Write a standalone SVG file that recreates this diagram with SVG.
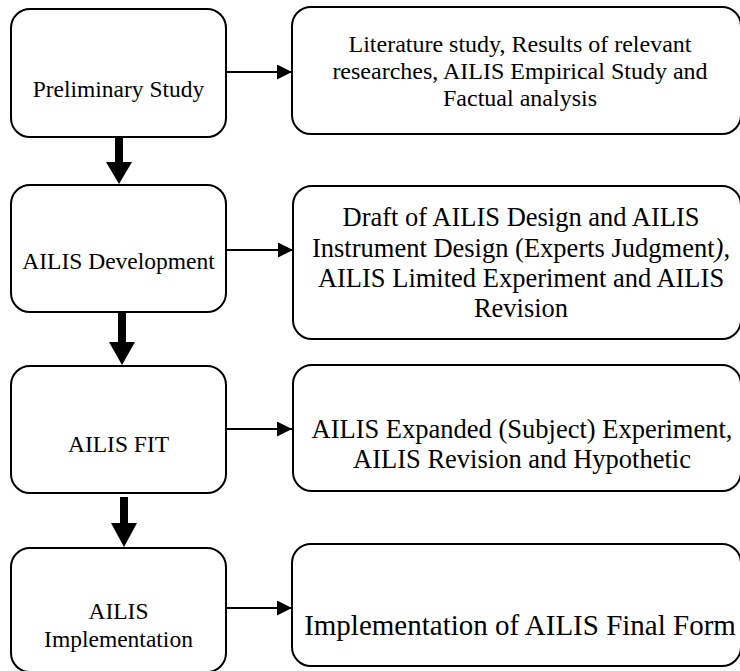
<svg xmlns="http://www.w3.org/2000/svg" width="740" height="671" viewBox="0 0 740 671">
  <defs>
    <marker id="head" markerWidth="15" markerHeight="15" refX="15" refY="7.5" orient="auto" markerUnits="userSpaceOnUse">
      <path d="M0,0 L15,7.5 L0,15 Z" fill="#000"/>
    </marker>
  </defs>
  <style>
    .box { fill: #fff; stroke: #000; stroke-width: 2; }
    .t { font-family: "Liberation Serif", "Times New Roman", serif; fill: #000; text-anchor: middle; }
    .s1 { font-size: 23.5px; }
    .s2 { font-size: 24px; }
    .s3 { font-size: 26.5px; }
    .s4 { font-size: 29px; }
    .link { stroke: #000; stroke-width: 2.2; fill: none; }
    .down { fill: #000; }
  </style>
  <rect width="740" height="671" fill="#fff"/>

  <!-- connectors -->
  <g id="connectors">
    <line class="link" x1="226" y1="72" x2="292" y2="72" marker-end="url(#head)"/>
    <line class="link" x1="226" y1="250" x2="293" y2="250" marker-end="url(#head)"/>
    <line class="link" x1="222" y1="429" x2="292" y2="429" marker-end="url(#head)"/>
    <line class="link" x1="226" y1="608" x2="292" y2="608" marker-end="url(#head)"/>
    <path class="down" d="M115,137 H123 V162 H132 L119,184 L106,162 H115 Z"/>
    <path class="down" d="M118,312 H126 V342 H135 L122,365 L109,342 H118 Z"/>
    <path class="down" d="M120,497 H128 V523 H137 L124,547 L111,523 H120 Z"/>
  </g>

  <!-- left column: stages -->
  <g id="preliminary-study">
    <rect class="box" x="11" y="9" width="215" height="128" rx="19"/>
    <text class="t s1" x="118.5" y="97">Preliminary Study</text>
  </g>
  <g id="ailis-development">
    <rect class="box" x="11" y="185" width="215" height="127" rx="19"/>
    <text class="t s1" x="118.5" y="269">AILIS Development</text>
  </g>
  <g id="ailis-fit">
    <rect class="box" x="11" y="366" width="215" height="127" rx="19"/>
    <text class="t s1" x="118.5" y="452">AILIS FIT</text>
  </g>
  <g id="ailis-implementation">
    <rect class="box" x="11" y="548" width="215" height="124" rx="19"/>
    <text class="t s1" x="118.5" y="619">AILIS</text>
    <text class="t s1" x="118.5" y="647">Implementation</text>
  </g>

  <!-- right column: activities -->
  <g id="activities-1">
    <rect class="box" x="292" y="7" width="449" height="127" rx="19"/>
    <text class="t s2" x="520" y="52">Literature study, Results of relevant</text>
    <text class="t s2" x="520" y="79">researches, AILIS Empirical Study and</text>
    <text class="t s2" x="520" y="106">Factual analysis</text>
  </g>
  <g id="activities-2">
    <rect class="box" x="293" y="186" width="448" height="153" rx="19"/>
    <text class="t s3" x="521" y="226">Draft of AILIS Design and AILIS</text>
    <text class="t s3" x="521" y="257">Instrument Design (Experts Judgment<tspan font-style="italic">)</tspan>,</text>
    <text class="t s3" x="521" y="287">AILIS Limited Experiment and AILIS</text>
    <text class="t s3" x="521" y="317">Revision</text>
  </g>
  <g id="activities-3">
    <rect class="box" x="293" y="365" width="448" height="126" rx="19"/>
    <text class="t s3" x="522" y="438">AILIS Expanded (Subject) Experiment,</text>
    <text class="t s3" x="522" y="468">AILIS Revision and Hypothetic</text>
  </g>
  <g id="activities-4">
    <rect class="box" x="292" y="544" width="449" height="122" rx="19"/>
    <text class="t s4" x="520" y="635">Implementation of AILIS Final Form</text>
  </g>
</svg>
